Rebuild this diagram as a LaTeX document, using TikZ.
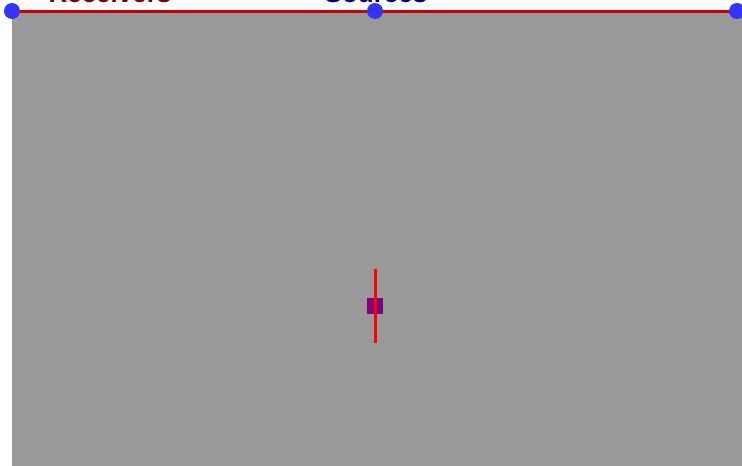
\documentclass[tikz,border=0pt]{standalone}
\usepackage{fontspec}
\setmainfont{Liberation Sans}
\definecolor{bgray}{HTML}{999999}
\definecolor{topred}{HTML}{CC0000}
\definecolor{dotblue}{HTML}{3333FF}
\definecolor{sqpurple}{HTML}{800080}
\definecolor{recvred}{HTML}{800000}
\definecolor{srcblue}{HTML}{000080}
\tikzset{
  dot/.style={circle, fill=dotblue, draw=none, minimum size=16pt, inner sep=0pt},
  lbl/.style={anchor=base, inner sep=0pt, font=\fontsize{26}{28}\selectfont\bfseries},
}
\begin{document}
\begin{tikzpicture}[x=1pt, y=-1pt]
\useasboundingbox (0,0) rectangle (742,466);
\fill[bgray] (12,11) rectangle (742,466);
\node[lbl, text=recvred] (recv) at (110,2) {Receivers};
\node[lbl, text=srcblue] (src) at (376,2) {Sources};
\coordinate (l) at (12,11);
\coordinate (m) at (375,11);
\coordinate (r) at (737,11);
\draw[topred, line width=3pt] (l) -- (r);
\node[dot] (d1) at (l) {};
\node[dot] (d2) at (m) {};
\node[dot] (d3) at (r) {};
\node[fill=sqpurple, minimum size=16pt, inner sep=0pt] (sq) at (375,306) {};
\coordinate (vt) at (375,269);
\coordinate (vb) at (375,343);
\draw[red, line width=3pt] (vt) -- (vb);
\end{tikzpicture}
\end{document}
